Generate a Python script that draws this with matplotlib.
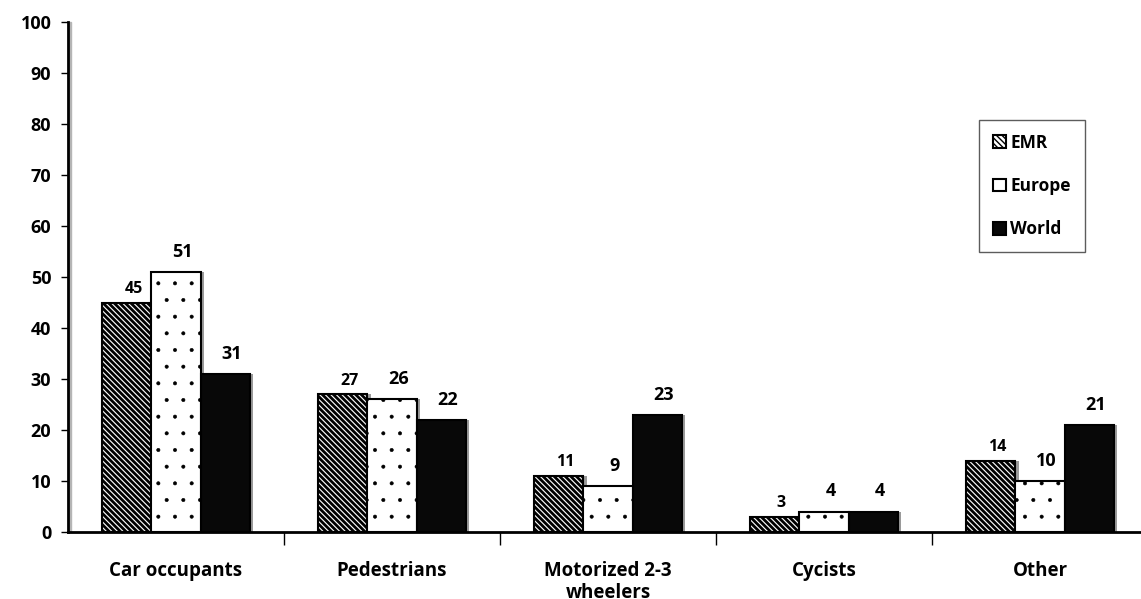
import numpy as np
import matplotlib as mpl
import matplotlib.pyplot as plt
from matplotlib.patches import Rectangle

categories = ["Car occupants", "Pedestrians", "Motorized 2-3\nwheelers", "Cycists", "Other"]
emr = [45, 27, 11, 3, 14]
europe = [51, 26, 9, 4, 10]
world = [31, 22, 23, 4, 21]

plt.rcParams["font.family"] = ["Open Sans", "DejaVu Sans"]
plt.rcParams["font.weight"] = "bold"

fig = plt.figure(figsize=(11.41, 5.99), dpi=100)
ax = fig.add_axes([68 / 1141, 67 / 599, 1080 / 1141, 510 / 599])

x = np.arange(len(categories))
w = 0.227
shadow = 0.018

series = [
    ("EMR", emr, -w, dict(facecolor="white", hatch="\\" * 6), 11.5, 2.0, 4),
    ("Europe", europe, 0, dict(facecolor="white", hatch="."), 13, 0.4, 8),
    ("World", world, w, dict(facecolor="#080808"), 13, 1.0, 8),
]

handles = []
for name, vals, off, style, fs, hlw, gap in series:
    # grey drop shadow on the right side of each bar
    ax.bar(x + off + shadow, vals, w, color="#9a9a9a", zorder=1)
    with mpl.rc_context({"hatch.linewidth": hlw}):
        b = ax.bar(x + off, vals, w, edgecolor="black", linewidth=1.5,
                   label=name, zorder=2, **style)
    for p in b:
        if hasattr(p, "set_hatch_linewidth"):
            p.set_hatch_linewidth(hlw)
    handles.append(b)
    for xi, v in zip(x, vals):
        ax.annotate(str(v), (xi + off + 0.03, v), xytext=(0, gap),
                    textcoords="offset points", ha="center", va="bottom",
                    fontsize=fs, fontweight="bold")

ax.set_xlim(-0.5, 4.5)
ax.set_ylim(0, 100)
ax.set_yticks(range(0, 101, 10))
ax.tick_params(axis="y", direction="out", length=5, width=1, labelsize=13, pad=7)

ax.set_xticks(x)
ax.set_xticklabels(categories, fontsize=13.5, fontweight="bold", linespacing=1.15)
ax.tick_params(axis="x", length=0, pad=21)
ax.set_xticks(np.arange(0.5, 4.5, 1), minor=True)
ax.tick_params(axis="x", which="minor", direction="out", length=9, width=1)

for s in ["top", "right"]:
    ax.spines[s].set_visible(False)
ax.spines["left"].set_linewidth(2)
ax.spines["bottom"].set_linewidth(2)

# shadow along the y axis
ax.add_patch(Rectangle((-0.5 + 0.004, 0), 0.008, 100, color="#b5b5b5",
                       zorder=0, clip_on=False))

leg = ax.legend(handles=handles, loc="upper left",
                bbox_to_anchor=(911 / 1080, (532 - 120) / 510),
                frameon=True, fancybox=False, edgecolor="#333333",
                fontsize=12.5, handlelength=0.75, handleheight=0.75,
                handletextpad=0.25, labelspacing=1.45, borderpad=0.8,
                borderaxespad=0)
leg.get_frame().set_linewidth(1)

fig.savefig("out.png", dpi=100)
